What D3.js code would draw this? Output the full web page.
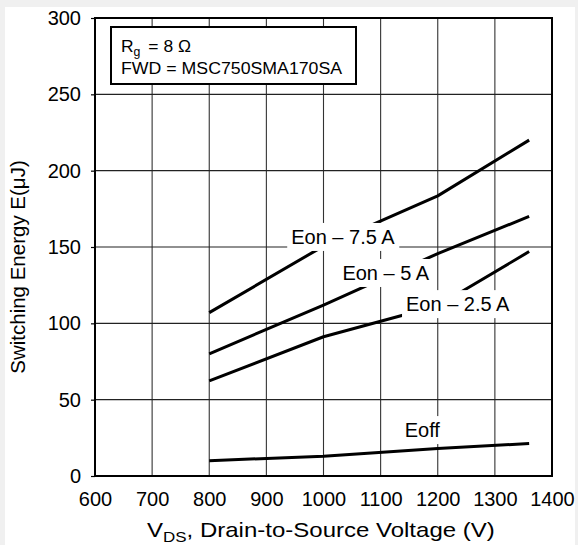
<!DOCTYPE html>
<html><head><meta charset="utf-8">
<script src="https://cdn.jsdelivr.net/npm/d3@7"></script>
<style>
html,body{margin:0;padding:0;background:#f0f0f0;}
svg{display:block;}
text{font-family:"Liberation Sans",Arial,sans-serif;fill:#000;}
</style></head>
<body>
<svg id="chart" width="578" height="545"></svg>
<script>
// ---- data ----
const vds = [800, 1000, 1200, 1360];
const eon75 = [107, 150.6, 183.5, 220];
const eon5 = [80, 112, 145.7, 170];
const eon25 = [62.3, 91.2, 111.5, 147];
const eoff = [10, 13, 18, 21.3];
const seriesNames = ["Eon – 7.5 A", "Eon – 5 A", "Eon – 2.5 A", "Eoff"];
// label anchor points (data units: x center, y baseline)
const labelX = [1034, 1109, 1235, 1173];
const labelY = [152, 128.4, 108, 25.5];
const xTicks = [600, 700, 800, 900, 1000, 1100, 1200, 1300, 1400];
const yTicks = [0, 50, 100, 150, 200, 250, 300];
const legendLines = ["Rg = 8 Ω", "FWD = MSC750SMA170SA"];

const svg = d3.select("#chart");
svg.append("rect").attr("x", 5).attr("y", 7).attr("width", 570).attr("height", 538).attr("fill", "#fff");

const L = 95, R = 552, T = 18, B = 476;
const x = d3.scaleLinear().domain([600, 1400]).range([L, R]);
const y = d3.scaleLinear().domain([0, 300]).range([B, T]);

// grid
const g = svg.append("g");
g.selectAll(".vg").data(xTicks.slice(1, -1)).enter().append("line")
  .attr("x1", d => x(d)).attr("x2", d => x(d)).attr("y1", T).attr("y2", B)
  .attr("stroke", "#333").attr("stroke-width", 1.1);
g.selectAll(".hg").data(yTicks.slice(1, -1)).enter().append("line")
  .attr("x1", L).attr("x2", R).attr("y1", d => y(d)).attr("y2", d => y(d))
  .attr("stroke", "#222").attr("stroke-width", 1.1);

// axes
const yAxis = svg.append("g").attr("transform", `translate(${L},0)`)
  .call(d3.axisLeft(y).tickValues(yTicks).tickSize(4).tickPadding(10));
const xAxis = svg.append("g").attr("transform", `translate(0,${B})`)
  .call(d3.axisBottom(x).tickValues(xTicks).tickFormat(d3.format("d")).tickSize(0).tickPadding(16));
[yAxis, xAxis].forEach(a => {
  a.select(".domain").remove();
  a.selectAll("text").attr("font-size", 20).attr("font-family", "Liberation Sans, Arial, sans-serif");
  a.selectAll("line").attr("stroke", "#000").attr("stroke-width", 1.2);
});

// lines
const allSeries = [eon75, eon5, eon25, eoff];
const line = d3.line().x((d, i) => x(vds[i])).y(d => y(d));
svg.selectAll(".s").data(allSeries).enter().append("path")
  .attr("d", d => line(d)).attr("fill", "none").attr("stroke", "#000")
  .attr("stroke-width", 3).attr("stroke-linejoin", "round");

// labels with white boxes
seriesNames.forEach((name, i) => {
  const lg = svg.append("g");
  const t = lg.append("text").attr("x", x(labelX[i])).attr("y", y(labelY[i]))
    .attr("text-anchor", "middle").attr("font-size", 20).text(name);
  const bb = t.node().getBBox();
  lg.insert("rect", "text").attr("x", bb.x - 4).attr("y", bb.y - 3)
    .attr("width", bb.width + 8).attr("height", bb.height + 6).attr("fill", "#fff");
});

// plot border
svg.append("rect").attr("x", L).attr("y", T).attr("width", R - L).attr("height", B - T)
  .attr("fill", "none").attr("stroke", "#000").attr("stroke-width", 2);

// helper: stretch a text element horizontally to a target width around its left x
function stretch(sel, targetW, anchorX) {
  const bb = sel.node().getBBox();
  const s = targetW / bb.width;
  sel.attr("transform", `translate(${anchorX},0) scale(${s},1) translate(${-anchorX},0)`);
}

// legend box
svg.append("rect").attr("x", 111).attr("y", 27).attr("width", 245).attr("height", 57)
  .attr("fill", "#fff").attr("stroke", "#000").attr("stroke-width", 2);
const t1 = svg.append("text").attr("x", 121).attr("y", 52).attr("font-size", 17);
t1.append("tspan").text(legendLines[0].slice(0, 1));
t1.append("tspan").attr("font-size", 12).attr("dy", 4).text(legendLines[0].slice(1, 2));
t1.append("tspan").attr("dy", -4).attr("dx", 3).text(legendLines[0].slice(2));
stretch(t1, 70, 121);
const t2 = svg.append("text").attr("x", 121).attr("y", 74).attr("font-size", 17).text(legendLines[1]);
stretch(t2, 222, 121);

// axis titles
const xt = svg.append("text").attr("x", 147).attr("y", 537)
  .attr("text-anchor", "start").attr("font-size", 20.5);
xt.append("tspan").text("V");
xt.append("tspan").attr("font-size", 14.5).attr("dy", 5).text("DS");
xt.append("tspan").attr("dy", -5).text(", Drain-to-Source Voltage (V)");
stretch(xt, 348, 147);

svg.append("text").attr("transform", `translate(25,${(T + B) / 2 + 20}) rotate(-90)`)
  .attr("text-anchor", "middle").attr("font-size", 20.5).text("Switching Energy E(μJ)");
</script>
</body></html>
